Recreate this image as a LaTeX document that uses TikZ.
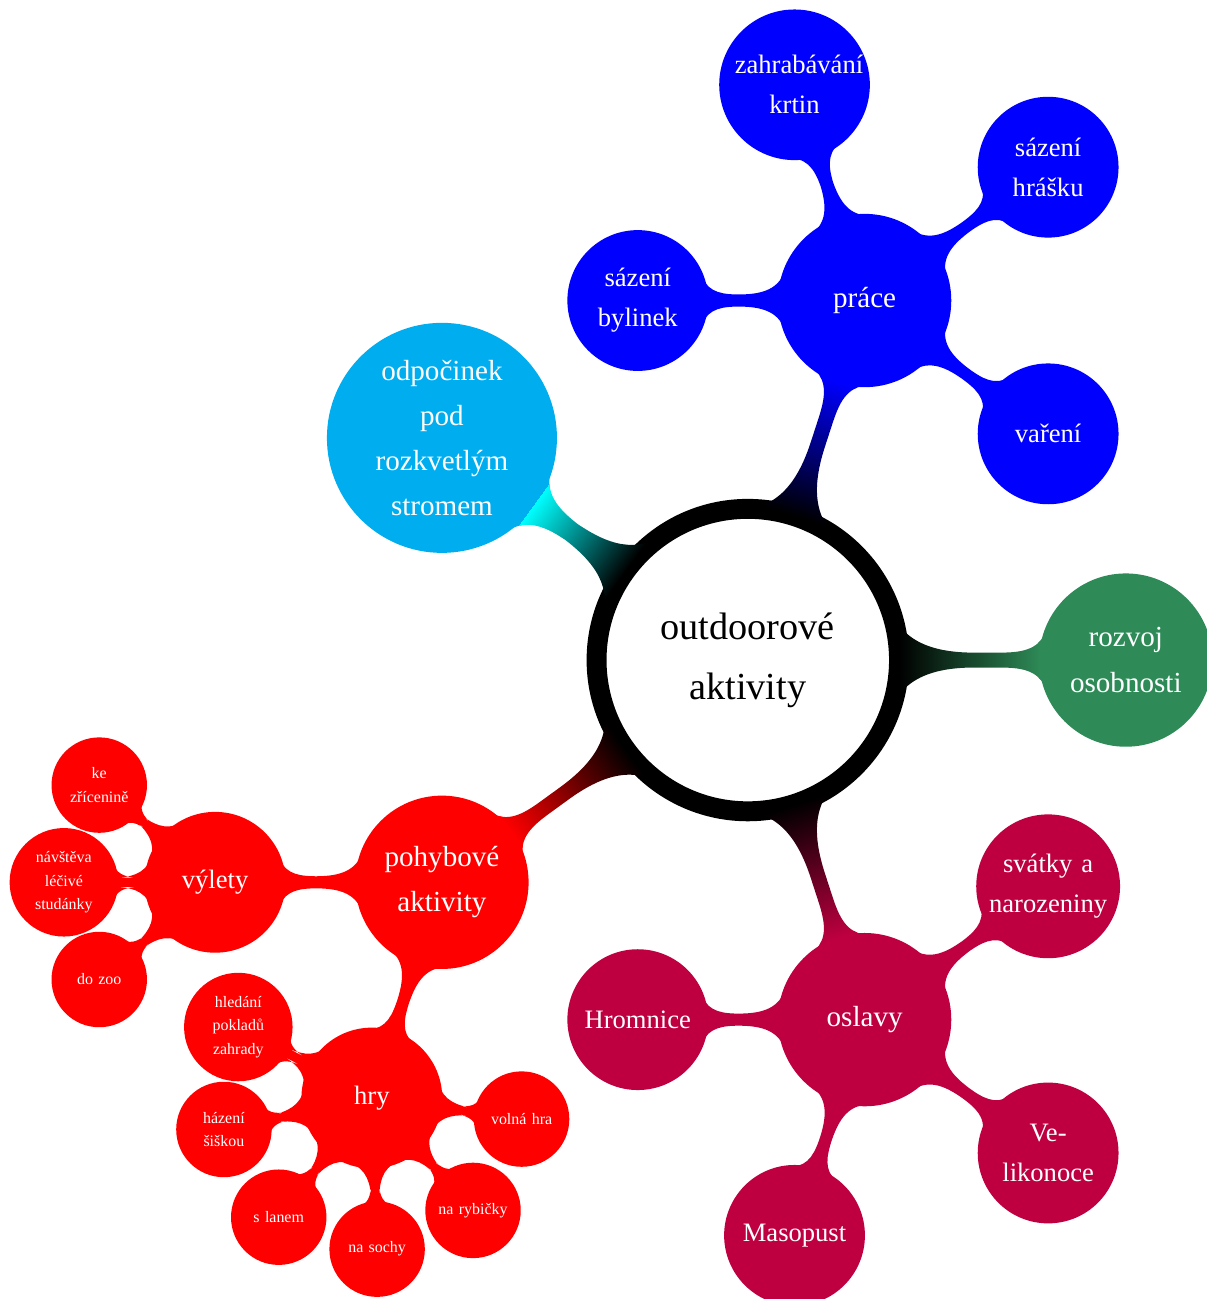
\documentclass[tikz,border=0pt,11pt]{standalone}
\usepackage{fontspec}
\setmainfont{Liberation Serif}
\usetikzlibrary{mindmap}
\linespread{1.25}
\definecolor{seagreen}{RGB}{46,139,87}
\begin{document}
\begin{tikzpicture}[mindmap,grow cyclic,text=white,
  every node/.style={concept},
  root concept/.append style={concept color=black,fill=white,draw=black,text=black,line width=7.5pt,minimum size=4cm,text width=3.5cm,font=\Large},
  level 1/.append style={level distance=5cm,sibling angle=72},
  level 2/.append style={level distance=3cm,sibling angle=72},
  level 3/.append style={level distance=2cm,sibling angle=40},
  level 1 concept/.append style={minimum size=2.25cm,text width=1.8cm,inner sep=1pt,font=\normalsize},
  level 2 concept/.append style={minimum size=1.82cm,text width=1.58cm,inner sep=0pt,font=\small},
  level 3 concept/.append style={minimum size=1.22cm,text width=0.95cm,inner sep=1.5pt,font=\tiny}]
\useasboundingbox (-9.89,-8.45) rectangle (6.07,8.73);

\node[root concept] (akt) {outdoorové aktivity}
  child[concept color=red] { node (pohyb) {pohybové aktivity}
    child { node (vylety) {výlety}
      child { node (zric) {ke zřícenině} }
      child { node (stud) {návštěva léčivé studánky} }
      child { node (zoo) {do zoo} } }
    child { node (hry) {hry}
      child { node (poklad) {hledání pokladů zahrady} }
      child { node (siska) {házení šiškou} }
      child { node (lano) {s lanem} }
      child { node (sochy) {na sochy} }
      child { node (rybky) {na rybičky} }
      child { node (volna) {volná hra} } } }
  child[concept color=purple] { node (oslavy) {oslavy}
    child { node (hromn) {Hromnice} }
    child { node (masop) {Masopust} }
    child { node (velik) {Ve\-likonoce} }
    child { node[minimum size=1.86cm] (svatky) {svátky a narozeniny} } }
  child[concept color=seagreen] { node (rozvoj) {rozvoj osobnosti} }
  child[concept color=blue] { node (prace) {práce}
    child { node (vareni) {vaření} }
    child { node (hrasek) {sázení hrášku} }
    child { node[minimum size=1.95cm] (krtin) {zahrabávání krtin} }
    child { node (bylin) {sázení bylinek} } }
  child[concept color=cyan] { node[minimum size=3cm] (odpoc) {odpočinek pod rozkvetlým stromem} };
\end{tikzpicture}
\end{document}
